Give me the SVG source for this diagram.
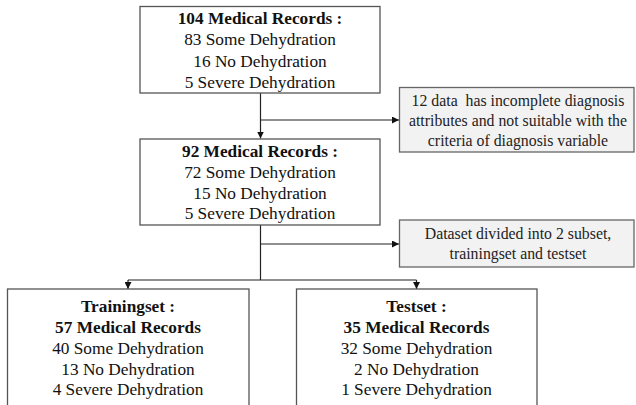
<svg xmlns="http://www.w3.org/2000/svg" width="636" height="405" viewBox="0 0 636 405">
<style>
.box{fill:#ffffff;stroke:#555555;stroke-width:1.3}
.note{fill:#f2f2f2;stroke:#666666;stroke-width:1.3}
.t{font-family:"Liberation Serif","Times New Roman",serif;font-size:17.3px;fill:#111111;text-anchor:middle}
.b{font-weight:bold}
.n{font-family:"Liberation Serif","Times New Roman",serif;font-size:15.8px;fill:#222222;text-anchor:middle;white-space:pre}
.c{fill:none;stroke:#222222;stroke-width:1.2}
</style>
<defs>
<marker id="ah" viewBox="0 0 10 10" refX="10" refY="5" markerWidth="7" markerHeight="7" markerUnits="userSpaceOnUse" orient="auto">
<path d="M0,0 L10,5 L0,10 z" fill="#111111"/>
</marker>
</defs>
<rect width="636" height="405" fill="#ffffff"/>
<g id="connectors">
<path class="c" d="M260.5,93 V138.5" marker-end="url(#ah)"/>
<path class="c" d="M260.5,120 H399" marker-end="url(#ah)"/>
<path class="c" d="M260.5,225 V280"/>
<path class="c" d="M260.5,244 H399" marker-end="url(#ah)"/>
<path class="c" d="M128,280 H416.5"/>
<path class="c" d="M128,280 V289" marker-end="url(#ah)"/>
<path class="c" d="M416.5,280 V289" marker-end="url(#ah)"/>
</g>
<g id="n104">
<rect class="box" x="140" y="6.5" width="240" height="86.5"/>
<text class="t b" x="260" y="24">104 Medical Records :</text>
<text class="t" x="260" y="45.3">83 Some Dehydration</text>
<text class="t" x="260" y="66.6">16 No Dehydration</text>
<text class="t" x="260" y="88">5 Severe Dehydration</text>
</g>
<g id="note1">
<rect class="note" x="399.5" y="87.5" width="234.5" height="64.5"/>
<text class="n" x="518" y="106" xml:space="preserve">12 data  has incomplete diagnosis</text>
<text class="n" x="518" y="126">attributes and not suitable with the</text>
<text class="n" x="518" y="146">criteria of diagnosis variable</text>
</g>
<g id="n92">
<rect class="box" x="140" y="139" width="240" height="86"/>
<text class="t b" x="260" y="157">92 Medical Records :</text>
<text class="t" x="260" y="178">72 Some Dehydration</text>
<text class="t" x="260" y="198.5">15 No Dehydration</text>
<text class="t" x="260" y="219">5 Severe Dehydration</text>
</g>
<g id="note2">
<rect class="note" x="399.5" y="220" width="234.5" height="47"/>
<text class="n" x="518" y="239">Dataset divided into 2 subset,</text>
<text class="n" x="518" y="259">trainingset and testset</text>
</g>
<g id="training">
<rect class="box" x="7.5" y="289" width="241.5" height="125"/>
<text class="t b" x="128" y="312">Trainingset :</text>
<text class="t b" x="128" y="333">57 Medical Records</text>
<text class="t" x="128" y="354">40 Some Dehydration</text>
<text class="t" x="128" y="374.5">13 No Dehydration</text>
<text class="t" x="128" y="395">4 Severe Dehydration</text>
</g>
<g id="testset">
<rect class="box" x="296.5" y="289" width="240.5" height="125"/>
<text class="t b" x="416.5" y="312">Testset :</text>
<text class="t b" x="416.5" y="333">35 Medical Records</text>
<text class="t" x="416.5" y="354">32 Some Dehydration</text>
<text class="t" x="416.5" y="374.5">2 No Dehydration</text>
<text class="t" x="416.5" y="395">1 Severe Dehydration</text>
</g>
</svg>
